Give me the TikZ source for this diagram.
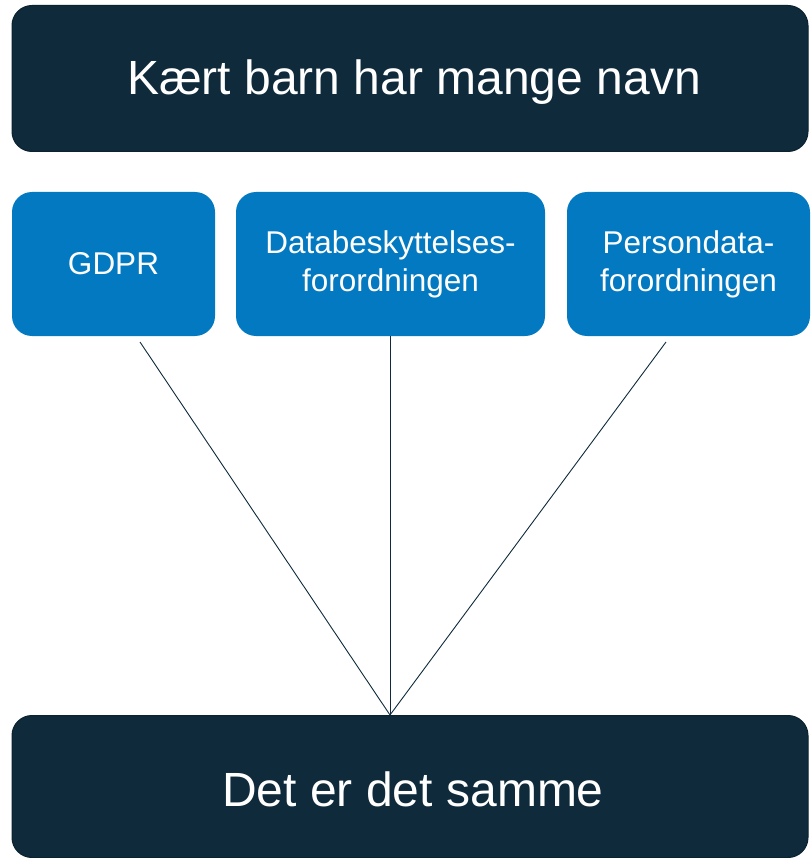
\documentclass[tikz,border=0pt]{standalone}
\usepackage{fontspec}
\setmainfont{Liberation Sans}
\usetikzlibrary{positioning}
\definecolor{navy}{HTML}{0E2A3B}
\definecolor{lawblue}{HTML}{0279C1}

\begin{document}
\begin{tikzpicture}[
	x=1pt, y=-1pt,
	headbox/.style={rectangle, rounded corners=20pt, fill=navy, draw=navy!80!black, line width=1pt, inner sep=0pt, minimum width=796pt, minimum height=146pt},
	headtext/.style={text=white, inner sep=0pt, font=\fontsize{48}{55}\selectfont},
	namebox/.style={rectangle, rounded corners=20pt, fill=lawblue, text=white, inner sep=0pt, minimum height=144pt, align=center, font=\fontsize{31.5}{38}\selectfont},
	link/.style={navy, line width=0.9pt}
]
\useasboundingbox (0,0) rectangle (810,858);

\node[headbox] (title) at (410,78.5) {};
\node[headtext] (title_text) at ([shift={(4,4)}]title.center) {Kært barn har mange navn};
\node[namebox, minimum width=203pt] (gdpr) at (113.5,264) {GDPR};
\node[namebox, minimum width=309pt] (dbf) at (390.5,264) {Databeskyttelses-\\forordningen};
\node[namebox, minimum width=243pt] (pdf) at (688.5,264) {Persondata-\\forordningen};
\node[headbox, minimum height=142pt] (same) at (410,786.5) {};
\node[headtext] (same_text) at ([shift={(3,3)}]same.center) {Det er det samme};

% line ends
\coordinate (meet) at (390,715);
\coordinate (gdpr_end) at (140,342);
\coordinate (pdf_end) at (666,342);

\draw[link] (gdpr_end) -- (meet);
\draw[link] (dbf.south -| meet) -- (meet);
\draw[link] (pdf_end) -- (meet);
\end{tikzpicture}
\end{document}
